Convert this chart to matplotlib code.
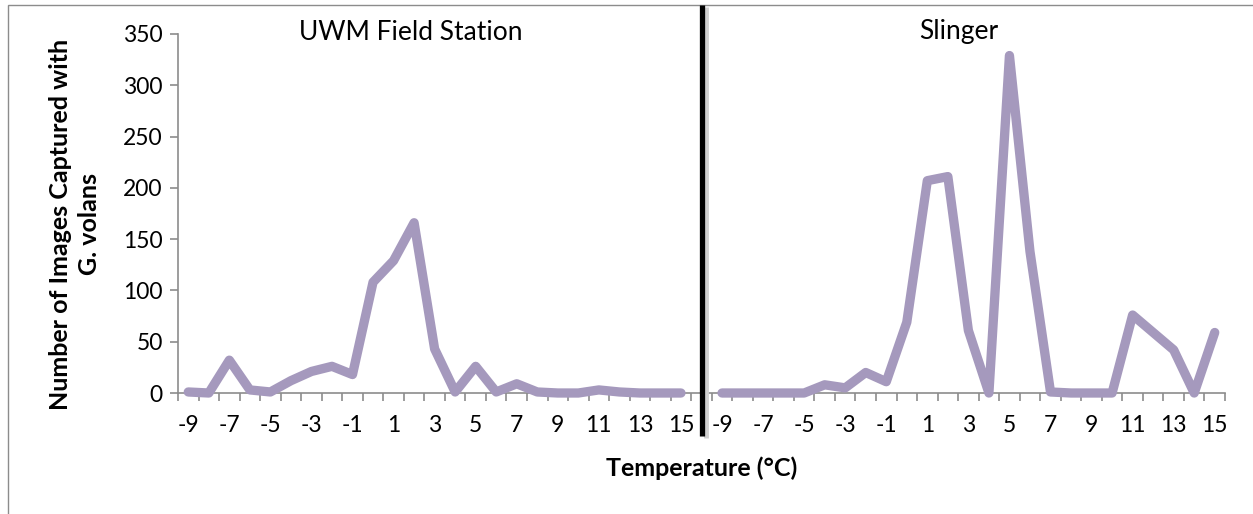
import matplotlib
matplotlib.use("Agg")
import matplotlib.pyplot as plt
from matplotlib.lines import Line2D
from matplotlib.patches import Rectangle
import numpy as np

temps = list(range(-9, 16))
uwm = [1, 0, 32, 3, 1, 12, 21, 26, 18, 108, 129, 166, 43, 1, 26, 1, 9, 1, 0, 0, 3, 1, 0, 0, 0]
slinger = [0, 0, 0, 0, 0, 8, 5, 20, 11, 69, 207, 211, 61, 0, 329, 138, 1, 0, 0, 0, 76, 59, 42, 0, 59]
panel_titles = ["UWM Field Station", "Slinger"]
ylabel = "Number of Images Captured with\nG. volans"
xlabel = "Temperature (°C)"

plt.rcParams['font.family'] = ['Lato', 'DejaVu Sans']

W, H = 1253, 514
fig = plt.figure(figsize=(W / 100, H / 100), dpi=100)

def fx(px):
    return px / W

def fy(py):
    return 1 - py / H

ax = fig.add_axes([fx(178), fy(393), fx(1225) - fx(178), fy(34) - fy(393)])

n = len(temps)
x_left = np.arange(n)
x_right = np.arange(n) + n + 1
line_color = "#A599BD"
lw = 6.7
for xs, ys in ((x_left, uwm), (x_right, slinger)):
    ax.plot(xs, ys, color=line_color, lw=lw, solid_joinstyle='round',
            solid_capstyle='round', zorder=3, clip_on=False)

total = 2 * n + 1
ax.set_xlim(-0.5, total - 0.5)
ax.set_ylim(0, 350)

tick_fs = 16.5
pos = list(x_left[::2]) + list(x_right[::2])
labs = [str(t) for t in temps[::2]] * 2
ax.set_xticks(pos)
ax.set_xticklabels(labs, fontsize=tick_fs)
ax.tick_params(axis='x', which='major', length=0, pad=16)
ax.set_xticks(np.arange(-0.5, total, 1.0), minor=True)
ax.tick_params(axis='x', which='minor', length=6, width=1.2, color="#8C8C8C", direction='out')

ax.set_yticks(np.arange(0, 351, 50))
ax.tick_params(axis='y', which='major', length=6, width=1.2, color="#8C8C8C",
               labelsize=tick_fs, pad=5)

for s in ('top', 'right'):
    ax.spines[s].set_visible(False)
for s in ('left', 'bottom'):
    ax.spines[s].set_color("#8C8C8C")
    ax.spines[s].set_linewidth(1.2)

fig.text(fx(75), fy(224), ylabel, rotation=90, ha='center', va='center',
         fontsize=18, fontweight='bold', linespacing=1.3)
fig.text(fx(702), fy(468), xlabel, ha='center', va='center',
         fontsize=18, fontweight='bold')

fig.text(fx(411), fy(32), panel_titles[0], ha='center', va='center', fontsize=19)
fig.text(fx(959), fy(32), panel_titles[1], ha='center', va='center', fontsize=19)

fig.add_artist(Line2D([fx(706), fx(706)], [fy(7), fy(438)], color="#D0D0D0", lw=3.5,
                      solid_capstyle='butt'))
fig.add_artist(Line2D([fx(702), fx(702)], [fy(5), fy(436)], color="black", lw=3.8,
                      solid_capstyle='butt'))

fig.add_artist(Rectangle((fx(8), fy(H + 20)), fx(W + 20), fy(5) - fy(H + 20),
                         fill=False, edgecolor="#8C8C8C", lw=1.0,
                         transform=fig.transFigure))

fig.savefig("out.png", dpi=100)
